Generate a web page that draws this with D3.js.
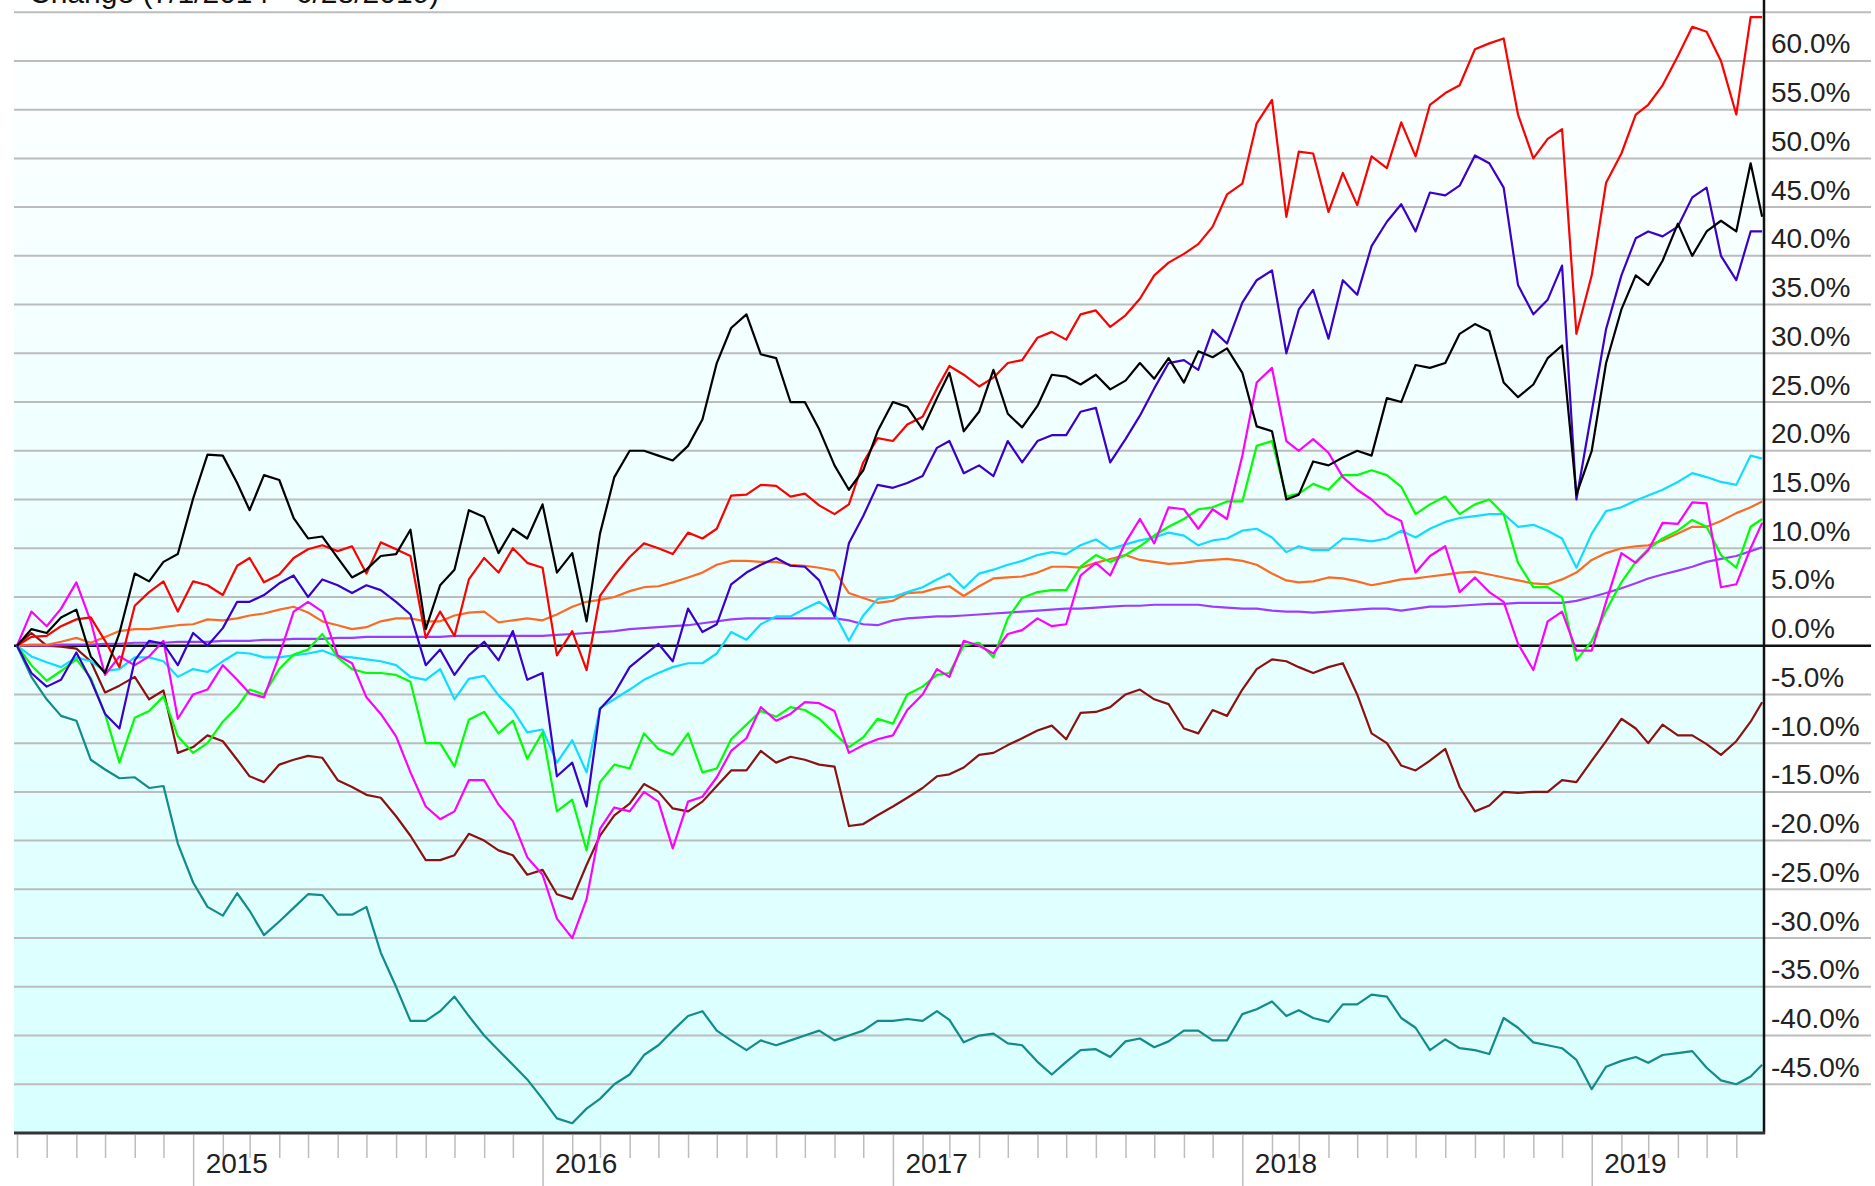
<!DOCTYPE html>
<meta charset="utf-8">
<script src="https://d3js.org/d3.v7.min.js"></script>
<style>
  body { margin: 0; background: #fff; overflow: hidden; }
  #chart svg { display: block; }
</style>
<div id="chart"></div>
<script>
const red = [
  0, 0.9, 1.0, 2.0, 2.7, 2.9, 0.5, -2.2, 4.1, 5.5,
  6.6, 3.5, 6.6, 6.2, 5.2, 8.2, 9, 6.5, 7.3, 9,
  9.9, 10.3, 9.7, 10.2, 7.4, 10.6, 9.9, 9.2, 0.8, 3.5,
  1, 6.8, 9, 7.5, 10, 8.5, 8, -1, 1.5, -2.5,
  5.1, 7.2, 9.1, 10.5, 10, 9.4, 11.6, 11, 12, 15.4,
  15.5, 16.5, 16.4, 15.3, 15.6, 14.4, 13.5, 14.5, 18.8, 21.3,
  21, 22.7, 23.5, 26.4, 28.7, 27.8, 26.6, 27.5, 29, 29.3,
  31.6, 32.2, 31.4, 34, 34.4, 32.7, 33.9, 35.6, 38, 39.3,
  40.2, 41.2, 43, 46.3, 47.4, 53.6, 56, 44, 50.7, 50.5,
  44.5, 48.5, 45.2, 50.2, 49, 53.7, 50.2, 55.5, 56.7, 57.5,
  61.2, 61.8, 62.3, 54.5, 50, 52, 53, 32, 38, 47.5,
  50.5, 54.5, 55.5, 57.5, 60.5, 63.5, 63, 60, 54.5, 64.5,
  64.5
];
const black = [
  0, 1.7, 1.3, 2.9, 3.7, -1.1, -2.8, 1.3, 7.4, 6.6,
  8.6, 9.4, 15.1, 19.6, 19.5, 16.7, 13.9, 17.5, 17, 13.1,
  11, 11.2, 9, 7, 7.8, 9.2, 9.4, 11.9, 1.7, 6.2,
  7.8, 13.9, 13.2, 9.5, 12, 11, 14.5, 7.5, 9.5, 2.5,
  11.5, 17.3, 20, 20, 19.5, 19, 20.5, 23.2, 29, 32.6,
  34, 29.9, 29.5, 25, 25, 22.2, 18.5, 16, 18, 22,
  25, 24.5, 22.2, 25.4, 28, 22, 24, 28.3, 23.8, 22.4,
  24.6, 27.8, 27.6, 26.8, 27.8, 26.3, 27.2, 29, 27.4, 29.5,
  27, 30.2, 29.6, 30.5, 28, 22.5, 22, 15, 15.5, 18.9,
  18.5, 19.3, 20, 19.5, 25.4, 25, 28.8, 28.5, 29, 32,
  33, 32.3, 27, 25.5, 26.8, 29.5, 30.8, 15.5, 20, 29,
  34.5, 38, 37, 39.5, 43.3, 40, 42.5, 43.6, 42.5, 49.5,
  44
];
const blue = [
  0, -2.8, -4.2, -3.5, -0.7, -3.5, -7, -8.5, -1.5, 0.5,
  0.2, -2, 1.3, 0, 1.8, 4.5, 4.5, 5.2, 6.4, 7.2,
  5, 6.8, 6.2, 5.4, 6.2, 5.7, 4.5, 3.2, -2, -0.4,
  -3, -1, 0.4, -1.5, 1.5, -3.5, -2.8, -13.4, -12, -16.5,
  -6.5, -4.9, -2.2, -1, 0.2, -1.6, 3.8, 1.4, 2.2, 6.3,
  7.5, 8.3, 9, 8.2, 8.1, 6.7, 3, 10.5, 13.3, 16.5,
  16.2, 16.7, 17.4, 20.3, 21, 17.7, 18.5, 17.4, 21, 18.8,
  21, 21.6, 21.6, 24, 24.4, 18.8, 21.2, 23.6, 26.4, 29,
  29.3, 28.3, 32.4, 31, 35.2, 37.5, 38.5, 30, 34.5, 36.5,
  31.5, 37.5, 36, 41, 43.5, 45.3, 42.5, 46.5, 46.2, 47.2,
  50.3, 49.5, 47, 37, 34, 35.5, 39, 15, 24, 32.5,
  38, 41.8, 42.5, 42, 43, 46, 47, 40, 37.5, 42.5,
  42.5
];
const cyan = [
  0, -1.1, -1.7, -2.2, -1.2, -1.6, -2.6, -2.4, -1.2, -1.2,
  -1.6, -3.2, -2.4, -2.7, -1.6, -0.7, -0.8, -1.2, -1.2, -1,
  -0.8, -0.5, -1.1, -1.2, -1.4, -1.6, -2, -3.2, -3.5, -2.4,
  -5.5, -3.4, -3.1, -5.1, -6.6, -8.9, -8.6, -12, -9.7, -13,
  -6.4, -5.5, -4.5, -3.5, -2.8, -2.2, -1.8, -1.8, -0.8, 1.4,
  0.6, 2.2, 3, 3, 3.8, 4.5, 3.3, 0.5, 3.1, 4.8,
  5, 5.5, 6, 6.8, 7.4, 5.9, 7.4, 7.8, 8.3, 8.7,
  9.3, 9.6, 9.4, 10.3, 10.9, 9.9, 10.4, 10.8, 11.1, 11.6,
  11.3, 10.3, 10.8, 11, 11.8, 12, 11.1, 9.6, 10.2, 9.8,
  9.8, 11, 10.9, 10.7, 11, 11.8, 11.1, 12, 12.7, 13.1,
  13.3, 13.5, 13.5, 12.2, 12.4, 11.8, 11, 8, 11.5, 13.8,
  14.2, 14.9, 15.4, 16, 16.8, 17.7, 17.3, 16.8, 16.5, 19.5,
  19.2
];
const orange = [
  0, 0.1, 0.1, 0.4, 0.8, 0.3, 0.9, 1.5, 1.7, 1.7,
  1.9, 2.1, 2.2, 2.7, 2.6, 2.8, 3.1, 3.3, 3.7, 4,
  3.4, 2.5, 2.1, 1.7, 1.9, 2.5, 2.8, 2.8, 2.5, 2.5,
  3.1, 3.4, 3.5, 2.4, 2.6, 2.8, 2.6, 3.2, 4, 4.5,
  4.7, 5, 5.6, 6, 6.1, 6.5, 7, 7.5, 8.3, 8.7,
  8.7, 8.6, 8.6, 8.3, 8.2, 8, 7.7, 5.4, 4.9, 4.4,
  4.6, 5.4, 5.5, 5.9, 6.1, 5.1, 6.1, 6.9, 7, 7.1,
  7.5, 8.1, 8.1, 8, 8.5, 8.9, 9.3, 8.8, 8.6, 8.4,
  8.5, 8.7, 8.8, 8.9, 8.7, 8.3, 7.4, 6.7, 6.5, 6.6,
  7, 6.9, 6.6, 6.2, 6.5, 6.8, 6.9, 7.1, 7.3, 7.5,
  7.6, 7.3, 7, 6.7, 6.4, 6.3, 6.8, 7.5, 8.8, 9.5,
  10, 10.2, 10.3, 10.8, 11.5, 12.2, 12.2, 12.8, 13.6, 14.2,
  14.8
];
const green = [
  0, -2, -3.6, -2.6, -1.4, -3.3, -7, -12, -7.4, -6.7,
  -5.2, -9.3, -11, -10, -7.8, -6.3, -4.5, -5, -2.4, -0.9,
  -0.4, 1.2, -1.2, -2.4, -2.8, -2.8, -3, -3.7, -10, -10,
  -12.4, -7.6, -6.8, -9, -7.7, -11.6, -8.9, -17, -15.8, -21,
  -14, -12.2, -12.6, -9, -10.6, -11.2, -9, -13, -12.6, -9.6,
  -8.1, -6.7, -7.3, -6.3, -6.6, -7.5, -9, -10.4, -9.4, -7.5,
  -8, -5, -4.2, -3, -2.8, 0, 0.3, -1.2, 2.8, 4.9,
  5.5, 5.7, 5.7, 8.1, 9.3, 8.6, 9.3, 10.2, 11.3, 12.2,
  13, 14, 14.2, 14.8, 14.8, 20.5, 21, 15.3, 15.6, 16.6,
  16, 17.5, 17.5, 18, 17.5, 16.3, 13.5, 14.5, 15.3, 13.5,
  14.5, 15, 13.5, 8.5, 6, 6, 5, -1.5, 0.5, 3.6,
  6.5, 8.6, 9.9, 11, 11.8, 12.9, 12.2, 9.3, 8, 12.2,
  13
];
const magenta = [
  0, 3.5, 2, 3.8, 6.5, 2.5, -3, -1.1, -2, -1.1,
  0.5, -7.5, -5, -4.5, -2, -3.5, -4.9, -5.3, -1, 3.5,
  4.5, 3.5, -1, -1.8, -5.3, -7, -9.3, -13, -16.5, -17.8,
  -17, -13.8, -13.8, -16.3, -18, -21.7, -23.5, -28, -30, -26,
  -18.8, -16.6, -17, -15, -16, -20.8, -16, -15.5, -13.5, -10.8,
  -9.5, -6.3, -7.7, -7, -5.8, -5.9, -6.7, -11, -10.2, -9.6,
  -9.2, -6.6, -5, -2.4, -3.2, 0.5, 0, -0.8, 1.2, 1.6,
  2.8, 2, 2.2, 7.2, 8.5, 7.2, 10.6, 13, 10.5, 14.2,
  14, 12, 14, 13, 19.5, 27, 28.5, 21, 20, 21.2,
  19.8, 17.3, 16, 15, 13.5, 12.8, 7.5, 9.2, 10.2, 5.5,
  7, 5.5, 4.5, 0.2, -2.5, 2.5, 3.5, -0.5, -0.5, 4.5,
  9.5, 8.5, 9.8, 12.6, 12.5, 14.7, 14.6, 6, 6.3, 10,
  12.6
];
const purple = [
  0, 0, 0, 0.1, 0.1, 0.1, 0.2, 0.2, 0.3, 0.3,
  0.3, 0.4, 0.4, 0.4, 0.5, 0.5, 0.5, 0.6, 0.6, 0.7,
  0.7, 0.7, 0.8, 0.8, 0.9, 0.9, 0.9, 0.9, 0.9, 0.9,
  1.0, 1.0, 1.0, 1.0, 1.0, 1.0, 1.0, 1.1, 1.2, 1.3,
  1.4, 1.5, 1.7, 1.8, 1.9, 2.0, 2.1, 2.3, 2.5, 2.7,
  2.8, 2.8, 2.8, 2.8, 2.8, 2.8, 2.8, 2.6, 2.2, 2.1,
  2.6, 2.8, 2.9, 3.0, 3.0, 3.1, 3.2, 3.3, 3.4, 3.5,
  3.6, 3.7, 3.8, 3.8, 3.9, 4.0, 4.1, 4.1, 4.2, 4.2,
  4.2, 4.2, 4.0, 3.9, 3.8, 3.8, 3.6, 3.5, 3.5, 3.4,
  3.5, 3.6, 3.7, 3.8, 3.8, 3.6, 3.8, 4.0, 4.0, 4.1,
  4.2, 4.3, 4.3, 4.4, 4.4, 4.4, 4.4, 4.6, 5.0, 5.4,
  5.9, 6.4, 6.9, 7.3, 7.7, 8.1, 8.6, 8.9, 9.2, 9.7,
  10.1
];
const maroon = [
  0, 1.3, 0, -0.1, -0.3, -1.6, -4.8, -4.1, -3.2, -5.5,
  -4.6, -11, -10.4, -9.2, -9.8, -11.7, -13.4, -14, -12.2, -11.7,
  -11.3, -11.5, -13.8, -14.5, -15.3, -15.6, -17.5, -19.5, -22, -22,
  -21.5, -19.3, -20, -21, -21.5, -23.5, -23, -25.5, -26, -22.5,
  -19.5, -17.4, -16.2, -14.2, -15, -16.7, -17, -16, -14.4, -12.8,
  -12.8, -10.8, -12, -11.4, -11.7, -12.2, -12.4, -18.5, -18.3, -17.4,
  -16.5, -15.6, -14.6, -13.4, -13.2, -12.5, -11.2, -11, -10.2, -9.5,
  -8.7, -8.2, -9.6, -6.9, -6.8, -6.3, -5, -4.5, -5.5, -6,
  -8.5, -9, -6.6, -7.2, -4.5, -2.4, -1.4, -1.6, -2.2, -2.8,
  -2.2, -1.8, -5, -9, -10, -12.3, -12.8, -11.8, -10.6, -14.5,
  -17, -16.4, -15, -15.1, -15, -15, -13.8, -14, -11.8, -9.8,
  -7.5, -8.5, -10, -8.1, -9.2, -9.2, -10.1, -11.2, -9.8, -7.8,
  -5.8
];
const teal = [
  0, -3.2, -5.5, -7.2, -7.7, -11.7, -12.7, -13.6, -13.5, -14.6,
  -14.4, -20.3, -24.3, -26.8, -27.7, -25.4, -27.2, -29.7, -28.3, -26.9,
  -25.5, -25.6, -27.6, -27.6, -26.8, -31.5, -35, -38.5, -38.5, -37.5,
  -36, -38, -40, -41.5, -43, -44.5, -46.5, -48.5, -49, -47.5,
  -46.5, -45, -44, -42, -41, -39.5, -38, -37.5, -39.5, -40.5,
  -41.5, -40.5, -41, -40.5, -40, -39.5, -40.5, -40, -39.5, -38.5,
  -38.5, -38.3, -38.5, -37.5, -38.4, -40.7, -40, -39.8, -40.8, -41,
  -42.7, -44, -42.7, -41.5, -41.4, -42.2, -40.6, -40.3, -41.2, -40.6,
  -39.5, -39.5, -40.5, -40.5, -37.8, -37.3, -36.5, -38, -37.4, -38.2,
  -38.6, -36.8, -36.8, -35.8, -36, -38.2, -39.2, -41.5, -40.4, -41.3,
  -41.5, -41.9, -38.2, -39.2, -40.7, -41, -41.3, -42.5, -45.5, -43.2,
  -42.6, -42.2, -42.8, -42, -41.8, -41.6, -43.3, -44.6, -45, -44.2,
  -43
];

const yTicks = d3.range(-45, 65, 5);       // labelled gridlines
const gridVals = d3.range(-45, 70, 5);     // incl. the unlabelled 65% line
const titleText = "Change (7/1/2014 - 6/28/2019)";

// sample dates: 1st and 16th of each month, last point 6/28/2019
const dates = d3.range(121).map(i => i === 120
  ? new Date(2019, 5, 28)
  : new Date(2014, 6 + Math.floor(i / 2), i % 2 ? 16 : 1));

// drawing order, bottom to top
const series = [
  {values: teal, color: "#138b8b"},
  {values: maroon, color: "#8e1111"},
  {values: purple, color: "#9b3cff"},
  {values: orange, color: "#ff6a22"},
  {values: cyan, color: "#10dcff"},
  {values: green, color: "#00ff00"},
  {values: magenta, color: "#ff00ff"},
  {values: blue, color: "#3a00cc"},
  {values: red, color: "#ff0000"},
  {values: black, color: "#000000"}
];

const W = 1875, H = 1186;
const plot = {left: 14, right: 1764, bottom: 1133};

const x = d3.scaleTime()
  .domain([new Date(2014, 6, 1), new Date(2019, 6, 1)])
  .range([17, 1765]);
const y = d3.scaleLinear()
  .domain([-50, 66.25])
  .range([plot.bottom, 0]);

const svg = d3.select("#chart").append("svg")
  .attr("width", W).attr("height", H)
  .style("font-family", '"Liberation Sans", Arial, sans-serif');

const defs = svg.append("defs");
const grad = defs.append("linearGradient").attr("id", "bg")
  .attr("x1", 0).attr("y1", 0).attr("x2", 0).attr("y2", 1);
grad.append("stop").attr("offset", "0%").attr("stop-color", "#ffffff");
grad.append("stop").attr("offset", "100%").attr("stop-color", "#d8ffff");
defs.append("clipPath").attr("id", "clip").append("rect")
  .attr("x", plot.left).attr("y", 0)
  .attr("width", plot.right - plot.left).attr("height", plot.bottom);

// plot background
svg.append("rect")
  .attr("x", plot.left).attr("y", 0)
  .attr("width", plot.right - plot.left).attr("height", plot.bottom)
  .attr("fill", "url(#bg)");

// title, cut off by the top edge as in the source picture
svg.append("text")
  .attr("x", 29).attr("y", 3)
  .attr("font-size", 30).attr("fill", "#111")
  .text(titleText);

// horizontal gridlines, running on under the labels
svg.append("g").selectAll("line")
  .data(gridVals.filter(v => v !== 0))
  .join("line")
  .attr("x1", plot.left).attr("x2", 1871)
  .attr("y1", d => y(d)).attr("y2", d => y(d))
  .attr("stroke", "#bcbcbc").attr("stroke-width", 2);

// zero line
svg.append("line")
  .attr("x1", plot.left).attr("x2", 1871)
  .attr("y1", y(0)).attr("y2", y(0))
  .attr("stroke", "#111").attr("stroke-width", 2.5);

// series
const line = d3.line()
  .x((d, i) => x(dates[i]))
  .y(d => y(d));
svg.append("g").attr("clip-path", "url(#clip)")
  .selectAll("path")
  .data(series)
  .join("path")
  .attr("d", d => line(d.values))
  .attr("fill", "none")
  .attr("stroke", d => d.color)
  .attr("stroke-width", 2.2)
  .attr("stroke-linejoin", "round");

// right border and bottom border
svg.append("line")
  .attr("x1", plot.right).attr("x2", plot.right)
  .attr("y1", 0).attr("y2", plot.bottom + 1)
  .attr("stroke", "#111").attr("stroke-width", 2.5);
svg.append("line")
  .attr("x1", plot.left).attr("x2", plot.right + 1)
  .attr("y1", plot.bottom).attr("y2", plot.bottom)
  .attr("stroke", "#333").attr("stroke-width", 3);

// right value axis
const yAxis = svg.append("g")
  .attr("transform", `translate(${plot.right},0)`)
  .call(d3.axisRight(y).tickValues(yTicks).tickSize(0).tickPadding(7)
    .tickFormat(d => d.toFixed(1) + "%"));
yAxis.attr("font-family", null).attr("font-size", null);
yAxis.select(".domain").remove();
yAxis.selectAll("text")
  .attr("dy", null).attr("y", -8)
  .attr("font-size", 28).attr("fill", "#222");

// month ticks
const months = d3.timeMonth.range(new Date(2014, 6, 1), new Date(2019, 6, 1))
  .filter(d => d.getMonth() !== 0);
const xMinor = svg.append("g")
  .attr("transform", `translate(0,${plot.bottom + 2})`)
  .call(d3.axisBottom(x).tickValues(months).tickSize(23).tickFormat(""));
xMinor.select(".domain").remove();
xMinor.selectAll("line").attr("stroke", "#bdbdbd").attr("stroke-width", 1.5);

// year ticks + labels
const years = d3.timeYear.range(new Date(2015, 0, 1), new Date(2019, 1, 1));
const xAxis = svg.append("g")
  .attr("transform", `translate(0,${plot.bottom + 2})`)
  .call(d3.axisBottom(x).tickValues(years).tickSize(55)
    .tickFormat(d3.timeFormat("%Y")));
xAxis.attr("font-family", null).attr("font-size", null);
xAxis.select(".domain").remove();
xAxis.selectAll("line").attr("stroke", "#bdbdbd").attr("stroke-width", 1.5);
xAxis.selectAll("text")
  .attr("text-anchor", "start")
  .attr("x", 12).attr("y", 38).attr("dy", null)
  .attr("font-size", 28).attr("fill", "#222");
</script>
